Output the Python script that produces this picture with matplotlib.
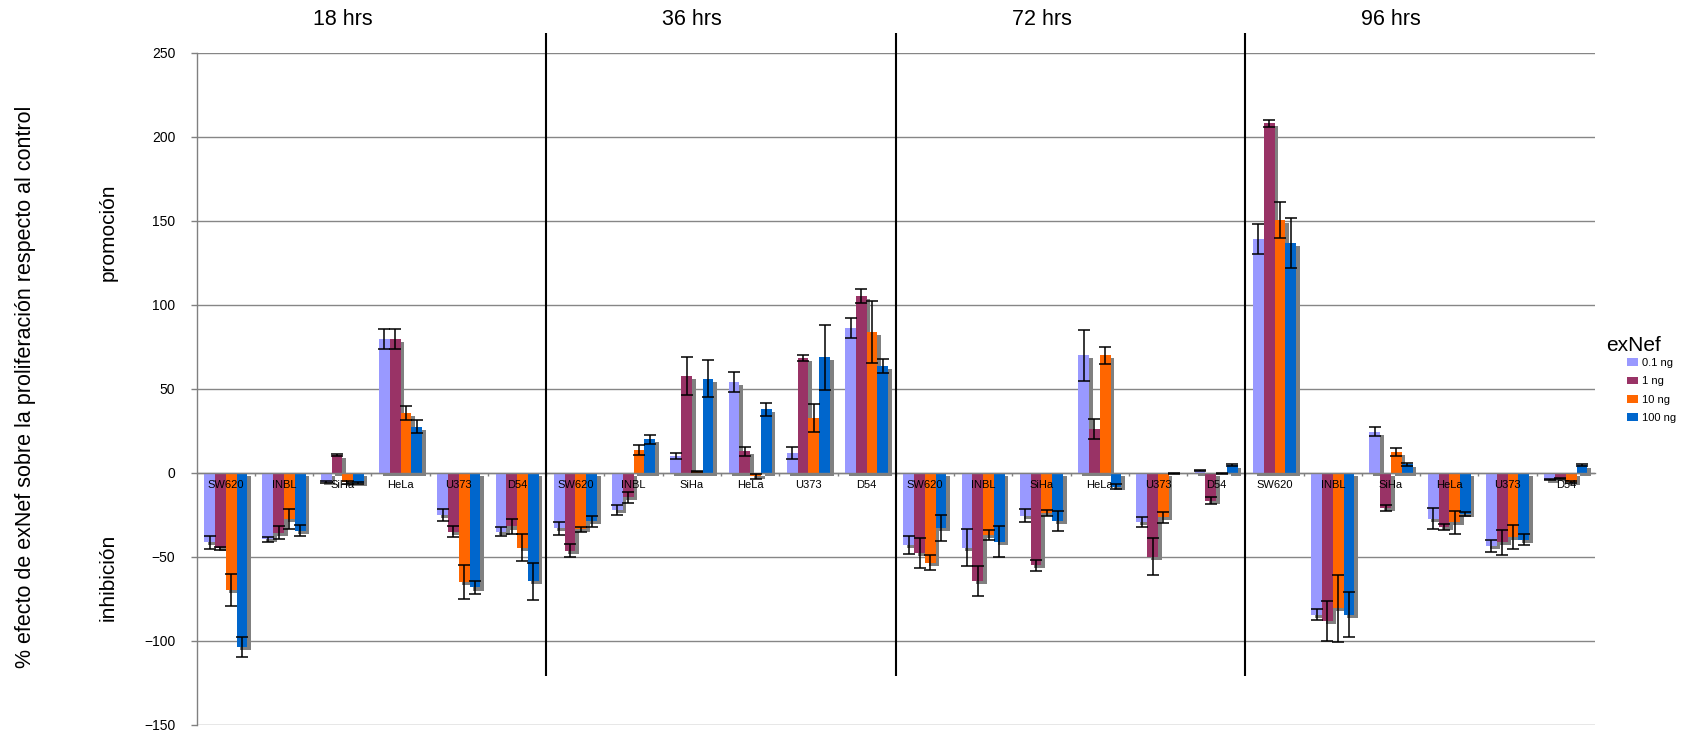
import matplotlib
matplotlib.use("Agg")
import matplotlib.pyplot as plt
import matplotlib.patheffects as pe
from matplotlib.patches import Patch
import numpy as np

plt.rcParams['font.family'] = ['Liberation Sans', 'DejaVu Sans']

# cell lines, repeated for each time point
cells = ["SW620", "INBL", "SiHa", "HeLa", "U373", "D54"]
times = ["18 hrs", "36 hrs", "72 hrs", "96 hrs"]
doses = ["0.1 ng", "1 ng", "10 ng", "100 ng"]
colors = ["#9999FF", "#993366", "#FF6600", "#0066CC"]

# % effect per dose, 18h | 36h | 72h | 96h  (6 cell lines each)
v01 = [-41.5, -39.7, -5.4, 79.4, -25.2, -35,
       -33, -22, 9.9, 53.8, 11.7, 85.9,
       -43, -44.6, -25.6, 69.8, -29.6, 1.2,
       139, -84.5, 24.5, -27.3, -43.6, -4.1]
v1 = [-45, -35.7, 10.5, 79.4, -35, -32,
      -46.4, -14.7, 57.5, 12.7, 68.3, 105.2,
      -47.6, -64.5, -55, 25.8, -50, -16.7,
      208, -88.2, -21, -32.3, -41.4, -3.2]
v10 = [-70, -27.8, -5.8, 35.5, -65, -44.6,
       -33.7, 13.5, 0.8, -2, 32.5, 83.7,
       -53.6, -37, -23.8, 69.8, -26.6, -0.4,
       150.5, -80.7, 12.5, -29.5, -38.2, -5.5]
v100 = [-103.6, -34.5, -6.3, 27.4, -68.3, -64.5,
        -29, 19.8, 56, 37.7, 68.8, 63.5,
        -32.7, -41, -28.6, -8.3, -0.4, 4.6,
        136.8, -84.5, 5, -24.5, -39.8, 4.5]

# error bars
e01 = [4, 1.5, 0.5, 6, 3.4, 2.4,
       3.8, 3, 2, 5.9, 3.4, 5.9,
       5.2, 11.2, 3.9, 15.2, 3, 0.3,
       9, 3.2, 2.7, 6.5, 3.5, 0.3]
e1 = [1, 4, 0.5, 6, 3.4, 4.5,
      4, 3.3, 11.5, 2.5, 1.6, 4,
      9, 9, 3.3, 6, 11, 2,
      2, 12, 2, 1.6, 7.3, 0.3]
e10 = [9.6, 6, 1, 4.3, 10, 8.2,
       1.6, 2.7, 0.3, 1.5, 8.3, 18.5,
       4.6, 3, 1.8, 5.2, 3.3, 0.3,
       10.7, 20, 2.5, 7, 7, 0.5]
e100 = [6, 3.3, 0.5, 3.7, 4, 11,
        3.3, 2.9, 11, 4, 19.4, 4.4,
        7.8, 9, 6, 1.5, 0.3, 0.6,
        14.8, 13.2, 1, 1, 3.2, 0.5]

values = [v01, v1, v10, v100]
errors = [e01, e1, e10, e100]

fig = plt.figure(figsize=(16.91, 7.35), dpi=100)
ax = fig.add_axes([0.1163, 0.0140, 0.8269, 0.9143])

x = np.arange(len(cells) * len(times))
w = 0.185
shadow = [pe.SimplePatchShadow(offset=(2.6, -2.2), shadow_rgbFace='#808080', alpha=1.0), pe.Normal()]

for k in range(4):
    xs = x + (k - 1.5) * w
    bars = ax.bar(xs, values[k], w, color=colors[k], zorder=2)
    for b in bars:
        b.set_path_effects(shadow)
    ax.errorbar(xs, values[k], yerr=errors[k], fmt='none', ecolor='black',
                elinewidth=1.1, capsize=4.2, capthick=1.1, zorder=4)

# grid
ax.set_ylim(-150, 250)
ax.set_xlim(-0.5, 23.5)
ax.set_yticks(np.arange(-150, 251, 50))
ax.yaxis.grid(True, color='#868686', lw=1.0)
ax.set_axisbelow(True)
ax.xaxis.set_zorder(5)

for s in ['top', 'right']:
    ax.spines[s].set_visible(False)
ax.spines['left'].set_color('#808080')
ax.spines['left'].set_linewidth(1.0)
ax.spines['bottom'].set_position(('data', 0))
ax.spines['bottom'].set_color('#808080')
ax.spines['bottom'].set_linewidth(1.0)
ax.spines['bottom'].set_zorder(3)

ax.tick_params(axis='y', direction='out', length=4.3, color='#808080', width=1.0,
               pad=11, labelsize=10)
ax.set_xticks(x, cells * len(times))
ax.set_xticks(np.arange(0.5, 23, 1), minor=True)
ax.tick_params(axis='x', which='major', length=0, pad=5, labelsize=8)
ax.tick_params(axis='x', which='minor', direction='out', length=2.5, color='#808080', width=1.0)

# panel dividers and titles
ax.vlines([5.5, 11.5, 17.5], -121, 262, color='black', lw=1.5, clip_on=False, zorder=6)
for i, t in enumerate(times):
    ax.text(2 + 6 * i, 270, t, ha='center', va='center', fontsize=15.5, clip_on=False)

fig.text(0.0150, 0.4735, "% efecto de exNef sobre la proliferación respecto al control",
         rotation=90, ha='center', va='center', fontsize=15.5)
fig.text(0.0639, 0.6844, "promoción", rotation=90, ha='center', va='center', fontsize=15)
fig.text(0.0639, 0.215, "inhibición", rotation=90, ha='center', va='center', fontsize=15)

# legend
fig.text(0.9497, 0.5293, "exNef", ha='left', va='center', fontsize=15)
handles = [Patch(facecolor=c, edgecolor='none') for c in colors]
fig.legend(handles, doses, loc='upper left', bbox_to_anchor=(0.9622, 0.5129),
           frameon=False, fontsize=8, handlelength=1.0, handleheight=0.7,
           handletextpad=0.3, labelspacing=0.75, borderpad=0, borderaxespad=0)

fig.savefig("out.png", dpi=100)
